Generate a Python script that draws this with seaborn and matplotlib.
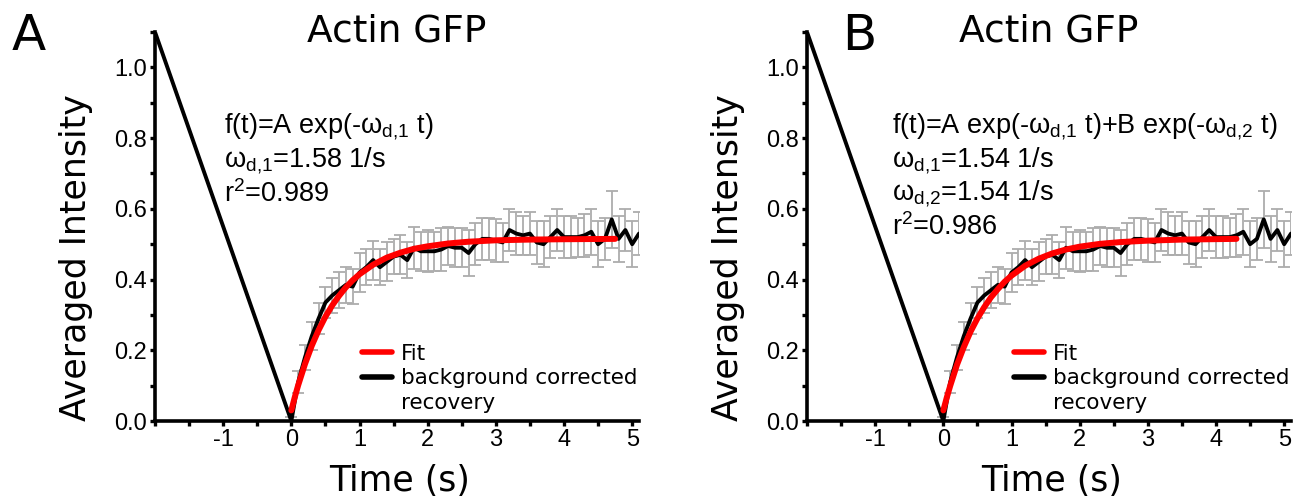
import numpy as np
import pandas as pd
import matplotlib
matplotlib.use("Agg")
import matplotlib.pyplot as plt
import seaborn as sns
from matplotlib.lines import Line2D
from matplotlib.ticker import MultipleLocator, FixedLocator, FuncFormatter

# --- data ---
time_s = [-2.0, 0.0, 0.1, 0.2, 0.3, 0.4, 0.5, 0.6, 0.7, 0.8, 0.9,
          1.0, 1.1, 1.2, 1.3, 1.4, 1.5, 1.6, 1.7, 1.8, 1.9,
          2.0, 2.1, 2.2, 2.3, 2.4, 2.5, 2.6, 2.7, 2.8, 2.9,
          3.0, 3.1, 3.2, 3.3, 3.4, 3.5, 3.6, 3.7, 3.8, 3.9,
          4.0, 4.1, 4.2, 4.3, 4.4, 4.5, 4.6, 4.7, 4.8, 4.9,
          5.0, 5.1]
intensity = [1.10, 0.00, 0.11, 0.18, 0.24, 0.29, 0.335, 0.355, 0.37, 0.385, 0.38,
             0.42, 0.435, 0.455, 0.435, 0.45, 0.465, 0.47, 0.455, 0.49, 0.48,
             0.48, 0.48, 0.485, 0.495, 0.49, 0.49, 0.475, 0.50, 0.515, 0.515,
             0.51, 0.505, 0.54, 0.53, 0.525, 0.53, 0.505, 0.50, 0.52, 0.54,
             0.52, 0.52, 0.52, 0.525, 0.535, 0.50, 0.515, 0.57, 0.515, 0.54,
             0.50, 0.53]
intensity_err = [0.0, 0.01, 0.03, 0.035, 0.04, 0.045, 0.045, 0.05, 0.05, 0.05, 0.05,
                 0.055, 0.05, 0.055, 0.05, 0.055, 0.05, 0.055, 0.05, 0.06, 0.055,
                 0.06, 0.055, 0.06, 0.055, 0.055, 0.055, 0.065, 0.06, 0.06, 0.06,
                 0.06, 0.055, 0.06, 0.06, 0.055, 0.06, 0.06, 0.065, 0.06, 0.06,
                 0.06, 0.06, 0.055, 0.06, 0.065, 0.065, 0.06, 0.08, 0.065, 0.06,
                 0.065, 0.06]

fit_t_a = [0.0, 0.05, 0.1, 0.2, 0.3, 0.4, 0.5, 0.6, 0.7, 0.8, 0.9, 1.0,
           1.2, 1.4, 1.6, 1.8, 2.0, 2.3, 2.6, 3.0, 3.5, 4.0, 4.75]
fit_a = [0.030, 0.067, 0.101, 0.161, 0.213, 0.257, 0.295, 0.327, 0.354, 0.378, 0.398, 0.415,
         0.442, 0.462, 0.476, 0.487, 0.494, 0.502, 0.507, 0.511, 0.513, 0.514, 0.515]
fit_t_b = [0.0, 0.05, 0.1, 0.2, 0.3, 0.4, 0.5, 0.6, 0.7, 0.8, 0.9, 1.0,
           1.2, 1.4, 1.6, 1.8, 2.0, 2.3, 2.6, 3.0, 3.5, 4.3]
fit_b = [0.030, 0.066, 0.099, 0.159, 0.209, 0.253, 0.290, 0.322, 0.350, 0.373, 0.394, 0.411,
         0.439, 0.459, 0.474, 0.485, 0.493, 0.501, 0.506, 0.510, 0.513, 0.515]

panel_letters = ["A", "B"]
panel_title = "Actin GFP"
annotations = [
    ["f(t)=A exp(-ω$_\\mathrm{d{,}1}$ t)",
     "ω$_\\mathrm{d{,}1}$=1.58 1/s",
     "r$^\\mathrm{2}$=0.989"],
    ["f(t)=A exp(-ω$_\\mathrm{d{,}1}$ t)+B exp(-ω$_\\mathrm{d{,}2}$ t)",
     "ω$_\\mathrm{d{,}1}$=1.54 1/s",
     "ω$_\\mathrm{d{,}2}$=1.54 1/s",
     "r$^\\mathrm{2}$=0.986"],
]

sns.set_style("ticks")
plt.rcParams['font.family'] = ['DejaVu Sans']
plt.rcParams['text.color'] = 'black'
plt.rcParams['axes.labelcolor'] = 'black'
plt.rcParams['xtick.color'] = 'black'
plt.rcParams['ytick.color'] = 'black'
plt.rcParams['axes.edgecolor'] = 'black'
plt.rcParams['mathtext.fontset'] = 'custom'
plt.rcParams['mathtext.rm'] = 'Liberation Sans'
plt.rcParams['mathtext.it'] = 'Liberation Sans'
plt.rcParams['mathtext.bf'] = 'Liberation Sans'

W, H = 1314, 503
fig = plt.figure(figsize=(W / 100, H / 100), dpi=100)

df = pd.DataFrame({"t": time_s, "I": intensity, "err": intensity_err})
fits = [pd.DataFrame({"t": fit_t_a, "f": fit_a}), pd.DataFrame({"t": fit_t_b, "f": fit_b})]
lefts = [155, 807]
text_x = [224, 892]

for k in range(2):
    ax = fig.add_axes([lefts[k] / W, 82 / H, 484 / W, 389 / H])
    ax.errorbar(df["t"][1:], df["I"][1:], yerr=df["err"][1:], fmt="none",
                ecolor="#adadad", elinewidth=1.3, capsize=4, capthick=1.3, zorder=1)
    sns.lineplot(data=df, x="t", y="I", color="black", lw=2.8, ax=ax, zorder=2)
    sns.lineplot(data=fits[k], x="t", y="f", color="red", lw=4.3, ax=ax, zorder=3)

    ax.set_xlim(-2.0, 5.1)
    ax.set_ylim(0, 1.1)
    ax.xaxis.set_major_locator(FixedLocator([-2, -1, 0, 1, 2, 3, 4, 5]))
    ax.xaxis.set_major_formatter(FuncFormatter(lambda v, p: "" if v < -1.5 else f"{v:.0f}"))
    ax.xaxis.set_minor_locator(MultipleLocator(0.5))
    ax.yaxis.set_major_locator(MultipleLocator(0.2))
    ax.yaxis.set_major_formatter(FuncFormatter(lambda v, p: f"{v:.1f}"))
    ax.yaxis.set_minor_locator(MultipleLocator(0.1))
    ax.tick_params(which="both", direction="out", length=3.5, width=2.4, color="black")
    ax.tick_params(labelsize=17, pad=2)
    for lab in ax.get_xticklabels() + ax.get_yticklabels():
        lab.set_family("Liberation Sans")
    for s in ["top", "right"]:
        ax.spines[s].set_visible(False)
    for s in ["left", "bottom"]:
        ax.spines[s].set_linewidth(2.6)

    ax.set_xlabel("Time (s)", fontsize=25)
    ax.set_ylabel("Averaged Intensity", fontsize=25)
    ax.xaxis.set_label_coords(0.506, -0.11)
    ax.yaxis.set_label_coords(-0.128, 0.42)
    ax.set_title(panel_title, fontsize=27, y=0.975, pad=0)

    for j, line in enumerate(annotations[k]):
        ax.text((text_x[k] - lefts[k]) / 484, (421 - 127 - 33.5 * j) / 389, line,
                transform=ax.transAxes, fontsize=19.5, family="Liberation Sans",
                va="center", ha="left")

    handles = [Line2D([], [], color="red", lw=4),
               Line2D([], [], color="black", lw=4),
               Line2D([], [], color="none", lw=0)]
    ax.legend(handles=handles, labels=["Fit", "background corrected", "recovery"],
              frameon=False, loc="lower left", bbox_to_anchor=(0.428, 0.02),
              fontsize=15.5, handlelength=1.4, handletextpad=0.4,
              labelspacing=0.22, borderpad=0, borderaxespad=0)

    fig.text((12 + 830 * k) / W, 1 - 50 / H, panel_letters[k], fontsize=36,
             va="baseline", ha="left")

fig.savefig("out.png", dpi=100)
